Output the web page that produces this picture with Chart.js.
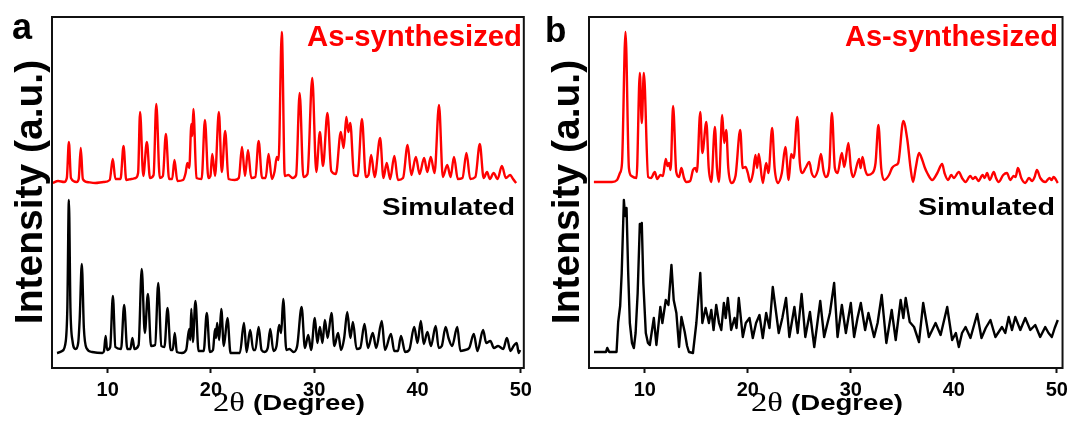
<!DOCTYPE html>
<html>
<head>
<meta charset="utf-8">
<script src="https://cdn.jsdelivr.net/npm/chart.js@4.4.1/dist/chart.umd.min.js"></script>
<style>
  html, body { margin: 0; padding: 0; background: #fff; }
  body { width: 1073px; height: 428px; position: relative; overflow: hidden; }
  .panel { position: absolute; top: 0; }
  #panel-a { left: 0; }
  #panel-b { left: 537px; }
</style>
</head>
<body>
<div class="panel" id="panel-a"><canvas id="chart-a" width="537" height="428"></canvas></div>
<div class="panel" id="panel-b"><canvas id="chart-b" width="536" height="428"></canvas></div>
<script>
// PXRD patterns, [2theta (deg), intensity (a.u.)]
const expA = [
	[4.7,185],[5.2,187],[5.8,186],[6.05,190],[6.25,226],[6.45,190],[7.0,186],[7.2,189],[7.4,220],[7.6,189],
	[8.0,186],[8.8,185],[9.6,186],[10.2,188],[10.5,209],[10.75,189],[11.25,189],[11.54,222],[11.8,188],[12.3,189],
	[12.7,190],[12.95,195],[13.14,256],[13.45,192],[13.8,226],[14.1,190],[14.45,193],[14.71,264],[15.05,190],[15.35,192],
	[15.64,234],[15.95,189],[16.25,189],[16.47,208],[16.75,187],[17.3,188],[17.55,195],[17.72,205],[17.9,200],[18.11,244],
	[18.2,232],[18.3,259],[18.6,190],[19.1,189],[19.42,248],[19.75,190],[19.95,192],[20.13,214],[20.4,192],[20.77,256],
	[21.05,196],[21.38,237],[21.7,189],[22.3,188],[22.7,190],[23.01,221],[23.3,192],[23.59,218],[23.9,190],[24.3,191],
	[24.62,227],[24.95,190],[25.3,190],[25.58,214],[25.9,189],[26.15,196],[26.38,211],[26.55,208],[26.86,336],[27.15,192],
	[27.5,193],[27.9,190],[28.25,193],[28.59,275],[28.95,191],[29.35,194],[29.81,290],[30.2,196],[30.55,236],[30.85,202],
	[31.28,255],[31.65,197],[32.1,194],[32.57,236],[32.85,220],[33.11,251],[33.3,236],[33.49,245],[33.85,193],[34.2,192],
	[34.62,249],[35.0,191],[35.25,193],[35.51,213],[35.85,191],[36.38,230],[36.7,190],[37.02,205],[37.35,189],[37.76,212],
	[38.1,188],[38.6,190],[39.04,223],[39.4,193],[39.84,211],[40.2,194],[40.64,210],[40.95,196],[41.28,211],[41.65,195],
	[42.08,263],[42.45,191],[42.88,203],[43.2,191],[43.53,211],[43.9,189],[44.35,190],[44.74,215],[45.1,189],[45.6,191],
	[46.03,224],[46.4,190],[46.73,196],[47.0,189],[47.37,195],[47.75,189],[48.17,202],[48.55,190],[48.97,193],[49.25,189],
	[49.55,185]
];

const simA = [
	[5.1,15],[5.6,17],[5.95,27],[6.1,60],[6.25,168],[6.4,60],[6.6,27],[6.9,19],[7.15,25],[7.3,50],
	[7.5,104],[7.7,40],[7.95,20],[8.5,16],[9.5,15],[9.65,17],[9.81,32],[9.95,18],[10.25,21],[10.51,72],
	[10.75,21],[11.3,19],[11.6,63],[11.9,19],[12.2,19],[12.4,30],[12.6,19],[13.0,23],[13.3,99],[13.6,35],
	[13.9,74],[14.2,22],[14.6,23],[14.9,85],[15.2,22],[15.5,21],[15.8,60],[16.1,18],[16.3,18],[16.5,35],
	[16.7,16],[17.2,15],[17.6,18],[17.9,39],[18.0,28],[18.1,59],[18.25,26],[18.5,67],[18.8,17],[19.3,17],
	[19.6,55],[19.9,16],[20.2,18],[20.4,39],[20.5,30],[20.6,45],[20.8,28],[21.0,59],[21.25,22],[21.6,50],
	[21.9,15],[22.8,15],[23.2,45],[23.45,16],[23.8,38],[24.1,18],[24.3,18],[24.62,41],[24.9,18],[25.2,16],
	[25.5,20],[25.74,39],[26.05,17],[26.35,22],[26.6,43],[26.8,35],[27.0,69],[27.3,18],[27.6,19],[28.0,16],
	[28.35,22],[28.78,61],[29.1,20],[29.42,33],[29.7,18],[30.06,50],[30.3,25],[30.55,41],[30.8,25],[31.03,48],
	[31.3,30],[31.67,55],[31.95,22],[32.31,35],[32.6,18],[32.9,30],[33.2,56],[33.5,30],[33.75,46],[34.1,19],
	[34.45,20],[34.87,44],[35.2,20],[35.67,35],[36.0,20],[36.54,47],[36.85,18],[37.43,34],[37.75,17],[38.1,17],
	[38.4,32],[38.8,16],[39.2,18],[39.68,41],[40.0,25],[40.32,47],[40.6,24],[40.96,36],[41.3,22],[41.76,42],
	[42.05,20],[42.35,22],[42.72,41],[43.0,30],[43.35,22],[43.85,41],[44.15,17],[44.6,18],[45.0,20],[45.45,34],
	[45.8,17],[46.35,38],[46.65,25],[47.05,27],[47.4,20],[47.8,22],[48.3,19],[48.65,30],[49.0,17],[49.3,22],
	[49.6,25],[49.8,15],[49.93,18]
];

const expB = [
	[5.05,186],[6.0,186],[6.8,186],[7.3,188],[7.58,195],[7.78,205],[8.12,336],[8.45,200],[8.7,192],[9.19,190],
	[9.51,295],[9.7,245],[9.9,295],[10.32,191],[10.6,190],[10.96,196],[11.2,189],[11.5,193],[11.75,192],[12.03,209],
	[12.2,202],[12.35,205],[12.5,198],[12.74,262],[13.05,196],[13.32,191],[13.55,200],[13.8,190],[14.03,186],[14.4,187],
	[14.67,198],[14.9,200],[15.05,196],[15.38,256],[15.58,215],[15.97,246],[16.2,200],[16.45,186],[16.8,241],[17.0,200],
	[17.19,186],[17.51,253],[17.7,225],[17.9,238],[18.1,200],[18.38,185],[18.8,192],[19.26,238],[19.5,200],[19.77,201],
	[20.0,195],[20.22,186],[20.5,195],[20.74,213],[20.9,200],[21.06,214],[21.45,185],[21.78,205],[22.0,195],[22.36,240],
	[22.6,200],[22.9,185],[23.3,195],[23.64,221],[23.97,188],[24.2,214],[24.45,210],[24.8,251],[25.05,205],[25.32,195],
	[25.6,200],[25.97,206],[26.2,195],[26.45,191],[26.8,198],[27.1,214],[27.35,197],[27.57,191],[27.9,200],[28.16,255],
	[28.45,200],[28.71,195],[29.13,215],[29.36,201],[29.77,225],[30.0,200],[30.23,191],[30.81,209],[30.95,200],[31.13,211],
	[31.4,198],[31.62,193],[32.1,195],[32.4,205],[32.68,243],[32.95,200],[33.23,188],[33.71,193],[34.0,200],[34.36,203],
	[34.6,205],[35.1,247],[35.49,228],[35.8,200],[36.04,186],[36.3,200],[36.62,215],[36.94,208],[37.2,200],[37.42,195],
	[37.9,188],[38.4,195],[38.87,204],[39.1,195],[39.45,188],[39.75,193],[40.0,190],[40.49,196],[40.8,190],[41.14,186],
	[41.6,192],[41.85,189],[42.1,191],[42.4,187],[42.8,193],[43.0,190],[43.23,195],[43.5,188],[43.88,196],[44.1,190],
	[44.36,186],[44.8,193],[45.16,195],[45.49,188],[45.8,192],[46.0,191],[46.23,200],[46.55,190],[46.94,185],[47.3,190],
	[47.6,187],[47.85,191],[48.07,198],[48.4,190],[48.88,186],[49.3,190],[49.5,188],[49.69,191],[50.1,185]
];

const simB = [
	[5.06,16],[6.22,16],[6.35,20],[6.54,16],[7.25,16],[7.41,46],[7.6,62],[7.75,95],[7.96,168],[8.08,152],
	[8.22,160],[8.38,95],[8.54,45],[8.75,25],[8.93,20],[9.1,35],[9.3,75],[9.51,144],[9.6,136],[9.7,145],
	[9.85,85],[10.09,35],[10.3,25],[10.48,23],[10.87,50],[11.12,23],[11.5,61],[11.7,45],[12.03,68],[12.29,63],
	[12.58,103],[12.8,68],[13.06,55],[13.32,21],[13.55,51],[13.87,36],[14.1,22],[14.28,16],[14.67,15],[15.0,45],
	[15.38,95],[15.58,45],[15.9,60],[16.22,45],[16.45,58],[16.67,38],[16.93,63],[17.2,45],[17.42,38],[17.67,65],
	[17.85,50],[18.06,70],[18.38,38],[18.71,50],[18.9,40],[19.12,70],[19.51,31],[19.8,45],[20.16,50],[20.48,30],
	[20.8,45],[21.13,53],[21.45,30],[21.78,55],[22.1,40],[22.42,81],[23.0,35],[23.35,50],[23.71,70],[24.03,31],
	[24.52,61],[24.84,35],[25.22,74],[25.58,31],[26.03,56],[26.45,21],[27.03,67],[27.41,31],[27.97,55],[28.38,85],
	[28.71,31],[29.13,63],[29.52,35],[30.0,65],[30.32,31],[30.65,50],[30.97,65],[31.39,38],[31.71,55],[32.26,31],
	[32.6,45],[33.0,73],[33.45,25],[33.97,58],[34.36,28],[34.84,68],[35.1,50],[35.33,70],[35.72,46],[36.14,41],
	[36.62,26],[37.03,65],[37.58,31],[38.23,45],[38.72,33],[39.36,61],[39.84,28],[40.2,35],[40.49,21],[40.8,35],
	[41.14,41],[41.62,30],[42.27,54],[42.69,30],[43.1,40],[43.56,48],[44.04,31],[44.68,41],[45.0,35],[45.33,51],
	[45.65,38],[45.97,51],[46.46,38],[46.94,50],[47.43,38],[47.91,43],[48.39,31],[48.88,41],[49.2,35],[49.52,31],
	[49.8,40],[50.1,48]
];

const xTicks = [10, 20, 30, 40, 50];
const expLabel = "As-synthesized";
const simLabel = "Simulated";

const SANS = "'Liberation Sans', Arial, sans-serif";
const SERIF = "'Liberation Serif', 'Times New Roman', serif";

const toPoints = arr => arr.map(([x, y]) => ({ x, y }));

// draw text squeezed/stretched horizontally to a given width
function fitText(ctx, text, left, baseline, width, font, color) {
	ctx.save();
	ctx.font = font;
	const k = width / ctx.measureText(text).width;
	ctx.translate(left, baseline);
	ctx.scale(k, 1);
	ctx.fillStyle = color;
	ctx.textAlign = "left";
	ctx.textBaseline = "alphabetic";
	ctx.fillText(text, 0, 0);
	ctx.restore();
}

const panelDecor = {
	id: "panelDecor",
	afterDatasetsDraw(chart) {
		const { ctx, chartArea: a } = chart;
		ctx.save();
		ctx.strokeStyle = "#111";
		ctx.lineWidth = 2;
		ctx.strokeRect(a.left, a.top, a.right - a.left, a.bottom - a.top);
		ctx.restore();
	},
	afterDraw(chart, args, o) {
		const ctx = chart.ctx;
		// panel letter
		ctx.save();
		ctx.font = `bold ${o.letterSize}px ${SANS}`;
		ctx.fillStyle = "#000";
		ctx.textBaseline = "alphabetic";
		ctx.fillText(o.letter, o.letterX, o.letterY);
		// y axis title, rotated
		ctx.translate(o.yTitleX, o.yTitleY);
		ctx.rotate(-Math.PI / 2);
		ctx.font = `bold 39px ${SANS}`;
		ctx.textAlign = "center";
		ctx.fillText("Intensity (a.u.)", 0, 0);
		ctx.restore();
		// trace labels
		fitText(ctx, expLabel, o.expRight - o.expWidth, 46, o.expWidth, `bold 30px ${SANS}`, "#ff0000");
		fitText(ctx, simLabel, o.simRight - o.simWidth, 215, o.simWidth, `bold 24px ${SANS}`, "#000");
		// x axis title: serif 2θ plus bold sans (Degree)
		fitText(ctx, "2\u03b8", o.xTitleX, 411, 32, `27px ${SERIF}`, "#000");
		fitText(ctx, "(Degree)", o.xTitleX + 40, 410, 112, `bold 22px ${SANS}`, "#000");
	}
};

function makeChart(id, exp, sim, simSmooth, xMin, xMax, padding, decor) {
	const line = (label, data, color, smooth) => ({
		label,
		data: toPoints(data),
		borderColor: color,
		borderWidth: 2.4,
		pointRadius: 0,
		tension: 0,
		cubicInterpolationMode: smooth ? "monotone" : "default",
		borderJoinStyle: "round",
	});
	return new Chart(document.getElementById(id), {
		type: "line",
		data: {
			datasets: [
				line(expLabel, exp, "#ff0000", true),
				line(simLabel, sim, "#000000", simSmooth),
			],
		},
		options: {
			responsive: false,
			animation: false,
			layout: { padding },
			plugins: {
				legend: { display: false },
				tooltip: { enabled: false },
				panelDecor: decor,
			},
			scales: {
				x: {
					type: "linear",
					min: xMin,
					max: xMax,
					afterBuildTicks: s => { s.ticks = xTicks.map(v => ({ value: v })); },
					afterFit: s => { s.height = 60; },
					ticks: {
						color: "#000",
						font: { family: SANS, size: 20, weight: "bold" },
						padding: 5,
						maxRotation: 0,
						autoSkip: false,
					},
					grid: {
						drawOnChartArea: false,
						drawTicks: true,
						tickLength: 5,
						tickWidth: 2,
						tickColor: "#111",
					},
					border: { display: false },
				},
				y: { display: false, min: 0, max: 351 },
			},
		},
		plugins: [panelDecor],
	});
}

makeChart("chart-a", expA, simA, true, 4.615, 50.29, { left: 52, right: 10, top: 17, bottom: 0 }, {
	letter: "a", letterSize: 36, letterX: 12, letterY: 39,
	yTitleX: 42, yTitleY: 192,
	expRight: 522, expWidth: 215,
	simRight: 515, simWidth: 133,
	xTitleX: 213,
});

makeChart("chart-b", expB, simB, false, 4.574, 50.56, { left: 52, right: 9, top: 17, bottom: 0 }, {
	letter: "b", letterSize: 35, letterX: 8, letterY: 42,
	yTitleX: 42, yTitleY: 192,
	expRight: 521, expWidth: 213,
	simRight: 518, simWidth: 137,
	xTitleX: 214,
});
</script>
</body>
</html>
